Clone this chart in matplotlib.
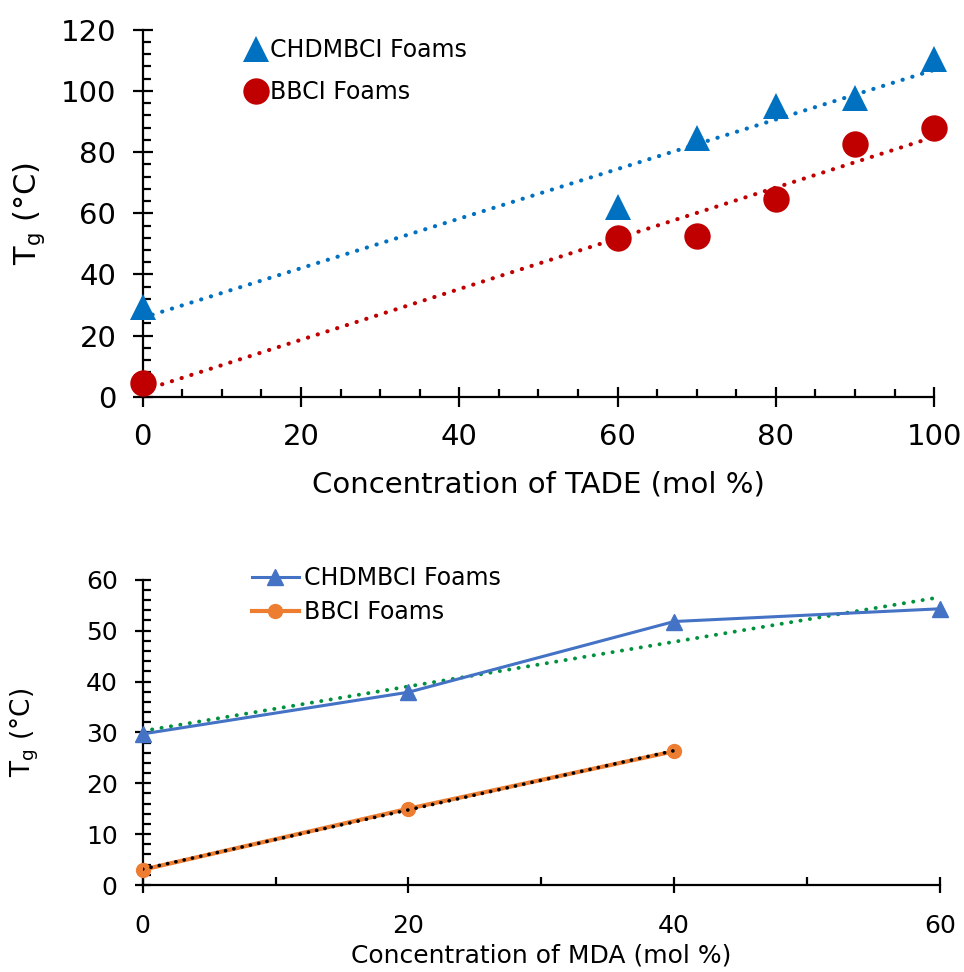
import numpy as np
import matplotlib
matplotlib.use("Agg")
import matplotlib.pyplot as plt
from matplotlib.ticker import MultipleLocator

plt.rcParams["font.family"] = ["DejaVu Sans"]

# top panel: Tg vs TADE content
tade_x = [0, 60, 70, 80, 90, 100]
tade_chdm = [29.5, 62, 84.5, 95, 97.5, 110.5]
tade_bbci = [4.5, 52, 52.5, 64.5, 82.5, 88]

# bottom panel: Tg vs MDA content
mda_x_chdm = [0, 20, 40, 60]
mda_chdm = [29.7, 37.9, 51.8, 54.3]
mda_x_bbci = [0, 20, 40]
mda_bbci = [3, 15, 26.3]

BLUE = "#0070C0"
RED = "#C00000"
BLUE2 = "#4472C4"
ORANGE = "#ED7D31"
GREEN = "#00913F"


def trend(ax, x, y, color, lw=3.0, gap=2.4, z=2):
    k, b = np.polyfit(x, y, 1)
    xx = np.array([min(x), max(x)])
    ax.plot(xx, k * xx + b, color=color, lw=lw, linestyle=(0, (0.05, gap)),
            dash_capstyle="round", zorder=z)


def style_axes(ax, fs, major_len, minor_len):
    for s in ("top", "right"):
        ax.spines[s].set_visible(False)
    for s in ("left", "bottom"):
        ax.spines[s].set_linewidth(1.6)
    ax.tick_params(which="major", direction="inout", length=major_len,
                   width=1.6, labelsize=fs)
    ax.tick_params(which="minor", direction="in", length=minor_len, width=1.6)


fig = plt.figure(figsize=(9.64, 9.72), dpi=100)

# ---- top ----
ax1 = fig.add_axes([0.148, 0.5916, 0.821, 0.378])
trend(ax1, tade_x, tade_chdm, BLUE)
trend(ax1, tade_x, tade_bbci, RED)
ax1.plot(tade_x, tade_chdm, "^", color=BLUE, ms=19, mew=0, label="CHDMBCI Foams",
         zorder=3, clip_on=False)
ax1.plot(tade_x, tade_bbci, "o", color=RED, ms=19, mew=0, label="BBCI Foams",
         zorder=3, clip_on=False)
ax1.set_xlim(0, 100)
ax1.set_ylim(0, 120)
ax1.xaxis.set_major_locator(MultipleLocator(20))
ax1.xaxis.set_minor_locator(MultipleLocator(5))
ax1.yaxis.set_major_locator(MultipleLocator(20))
ax1.yaxis.set_minor_locator(MultipleLocator(4))
style_axes(ax1, 21, 14, 5.5)
ax1.tick_params(axis="x", which="major", pad=12)
ax1.tick_params(axis="y", which="major", pad=12)
ax1.set_xlabel("Concentration of TADE (mol %)", fontsize=21, labelpad=14)
ax1.set_ylabel("T$_\\mathrm{g}$ (°C)", fontsize=22, labelpad=10)
ax1.legend(loc="upper left", bbox_to_anchor=(0.11, 1.015), frameon=False,
           fontsize=17, handletextpad=0.1, handlelength=1.0,
           borderaxespad=0.2, labelspacing=0.75)

# ---- bottom ----
ax2 = fig.add_axes([0.148, 0.0895, 0.827, 0.314])
trend(ax2, mda_x_chdm, mda_chdm, GREEN, lw=2.8)
ax2.plot(mda_x_chdm, mda_chdm, "-^", color=BLUE2, lw=2.2, ms=12,
         label="CHDMBCI Foams", zorder=3, clip_on=False)
ax2.plot(mda_x_bbci, mda_bbci, "-o", color=ORANGE, lw=3.0, ms=10,
         label="BBCI Foams", zorder=3, clip_on=False)
trend(ax2, mda_x_bbci, mda_bbci, "black", lw=2.6, gap=2.3, z=4)
ax2.set_xlim(0, 60)
ax2.set_ylim(0, 60)
ax2.xaxis.set_major_locator(MultipleLocator(20))
ax2.xaxis.set_minor_locator(MultipleLocator(10))
ax2.yaxis.set_major_locator(MultipleLocator(10))
ax2.yaxis.set_minor_locator(MultipleLocator(2))
style_axes(ax2, 18, 12, 6)
ax2.tick_params(axis="x", which="major", pad=15)
ax2.tick_params(axis="y", which="major", pad=12)
ax2.set_xlabel("Concentration of MDA (mol %)", fontsize=18, labelpad=4)
ax2.set_ylabel("T$_\\mathrm{g}$ (°C)", fontsize=19, labelpad=32)
ax2.legend(loc="upper left", bbox_to_anchor=(0.125, 1.075), frameon=False,
           fontsize=17, handletextpad=0.2, handlelength=2.0,
           borderaxespad=0.0, labelspacing=0.4)

fig.savefig("out.png", dpi=100)
